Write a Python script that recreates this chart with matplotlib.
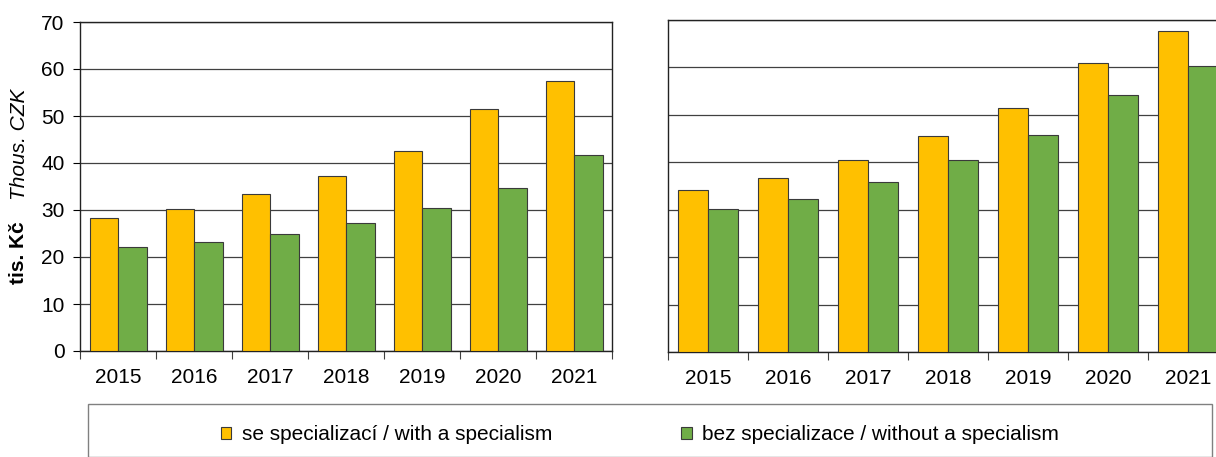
import matplotlib.pyplot as plt
import numpy as np
from matplotlib.patches import Rectangle

years = ["2015", "2016", "2017", "2018", "2019", "2020", "2021"]

# left panel
left_with = [28.2, 30.3, 33.4, 37.3, 42.6, 51.4, 57.5]
left_without = [22.1, 23.1, 24.8, 27.3, 30.5, 34.6, 41.7]

# right panel
right_with = [34.1, 36.6, 40.4, 45.5, 51.5, 61.0, 67.7]
right_without = [30.2, 32.3, 35.8, 40.4, 45.7, 54.1, 60.2]

label_with = "se specializací / with a specialism"
label_without = "bez specializace / without a specialism"

orange = "#FFC000"
green = "#70AD47"
edge = "#3a3a3a"

plt.rcParams["font.family"] = ["Liberation Sans", "DejaVu Sans"]
fs = 15

W, H = 1216, 457
fig = plt.figure(figsize=(W / 100, H / 100), dpi=100)


def px(x0, y0, x1, y1):
    return [x0 / W, 1 - y1 / H, (x1 - x0) / W, (y1 - y0) / H]


ax1 = fig.add_axes(px(80, 22, 612, 351))
ax2 = fig.add_axes(px(668, 20, 1228, 352))

x = np.arange(len(years))
bw = 0.375

for ax, a, b in [(ax1, left_with, left_without), (ax2, right_with, right_without)]:
    ax.bar(x - bw / 2, a, bw, color=orange, edgecolor=edge, linewidth=0.8, zorder=3,
           label=label_with)
    ax.bar(x + bw / 2, b, bw, color=green, edgecolor=edge, linewidth=0.8, zorder=3,
           label=label_without)
    ax.set_xlim(-0.5, len(years) - 0.5)
    ax.set_ylim(0, 70)
    ax.set_yticks(range(0, 71, 10))
    ax.yaxis.grid(True, color="#404040", linewidth=0.9, zorder=0)
    ax.set_axisbelow(True)
    ax.set_xticks(np.arange(-0.5, len(years), 1))
    ax.set_xticklabels([])
    ax.set_xticks(x, minor=True)
    ax.set_xticklabels(years, minor=True, fontsize=fs)
    ax.tick_params(axis="x", which="major", length=6, direction="out", color="#404040")
    ax.tick_params(axis="x", which="minor", length=0, pad=12)
    for s in ax.spines.values():
        s.set_color("#222222")
        s.set_linewidth(1.0)

ax1.tick_params(axis="y", labelsize=fs, length=5, pad=6)
ax2.tick_params(axis="y", labelleft=False, length=0)

fig.text(18 / W, 1 - 253 / H, "tis. Kč", rotation=90, fontsize=fs, fontweight="bold",
         ha="center", va="center")
fig.text(20 / W, 1 - 144 / H, "Thous. CZK", rotation=90, fontsize=fs, style="italic",
         ha="center", va="center")

fig.patches.append(Rectangle((88 / W, 0), (1212 - 88) / W, (H - 404) / H,
                             transform=fig.transFigure, fill=False,
                             edgecolor="#808080", linewidth=1.0))

handles, labels = ax1.get_legend_handles_labels()
fig.legend(handles, labels, loc="center", bbox_to_anchor=(640 / W, 1 - 435 / H),
           ncol=2, frameon=False, fontsize=fs, handlelength=0.5, handleheight=0.5,
           handletextpad=0.5, columnspacing=6.2, borderpad=0, borderaxespad=0)

fig.savefig("out.png", dpi=100)
